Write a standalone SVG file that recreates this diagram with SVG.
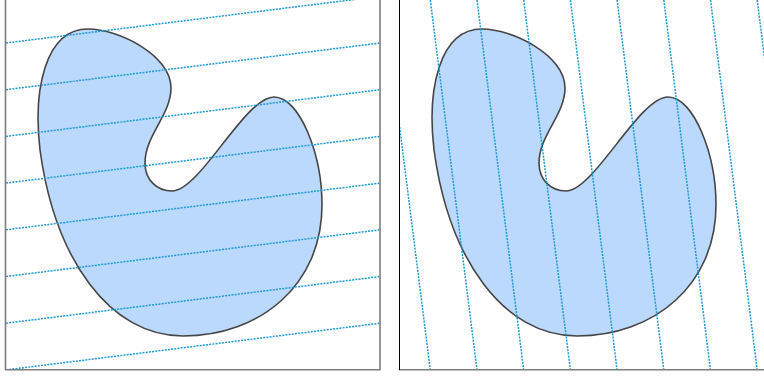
<svg xmlns="http://www.w3.org/2000/svg" width="764" height="377" viewBox="0 0 764 377">
<style>
.blob{fill:#bbd8fd;stroke:#454545;stroke-width:1.6;stroke-linejoin:round}
.hatch{fill:none;stroke:#1d9ad6;stroke-width:1.5;stroke-dasharray:2 1.2}
.frame{fill:none;stroke:#7d7d7d;stroke-width:1.6}
</style>
<defs>
<path id="shape" d="M88,29 C118,29 171,55 171,88 C171,115 145,135 145,163 C145,180 157,191 172,191 C200,191 245,97 274,97 C300,97 322,155 322,205 C322,285 260,336 183,336 C110,336 55,260 40,150 C33,90 45,29 88,29 Z"/>
<clipPath id="clipL"><rect x="6" y="0" width="374" height="370"/></clipPath>
<clipPath id="clipR"><rect x="400" y="0" width="364" height="370"/></clipPath>
</defs>
<g id="panel-left">
<use href="#shape" class="blob"/>
<g class="hatch" clip-path="url(#clipL)">
<line x1="6" y1="43" x2="380" y2="-3.7"/>
<line x1="6" y1="89.7" x2="380" y2="43"/>
<line x1="6" y1="136.4" x2="380" y2="89.7"/>
<line x1="6" y1="183.1" x2="380" y2="136.4"/>
<line x1="6" y1="229.8" x2="380" y2="183.1"/>
<line x1="6" y1="276.5" x2="380" y2="229.8"/>
<line x1="6" y1="323.2" x2="380" y2="276.5"/>
<line x1="6" y1="369.9" x2="380" y2="323.2"/>
</g>
<path class="frame" d="M5.5,0 V369.7 H380 V0"/>
</g>
<g id="panel-right">
<use href="#shape" class="blob" transform="translate(394,0)"/>
<g class="hatch" clip-path="url(#clipR)">
<line x1="383.6" y1="0" x2="430.3" y2="370"/>
<line x1="430.3" y1="0" x2="477" y2="370"/>
<line x1="477" y1="0" x2="523.7" y2="370"/>
<line x1="523.7" y1="0" x2="570.4" y2="370"/>
<line x1="570.4" y1="0" x2="617.1" y2="370"/>
<line x1="617.1" y1="0" x2="663.8" y2="370"/>
<line x1="663.8" y1="0" x2="710.5" y2="370"/>
<line x1="710.5" y1="0" x2="757.2" y2="370"/>
<line x1="757.2" y1="0" x2="803.9" y2="370"/>
</g>
<path class="frame" d="M399,369.7 H764"/>
<path d="M399.5,0 V370" fill="none" stroke="#000" stroke-width="1"/>
</g>
</svg>
